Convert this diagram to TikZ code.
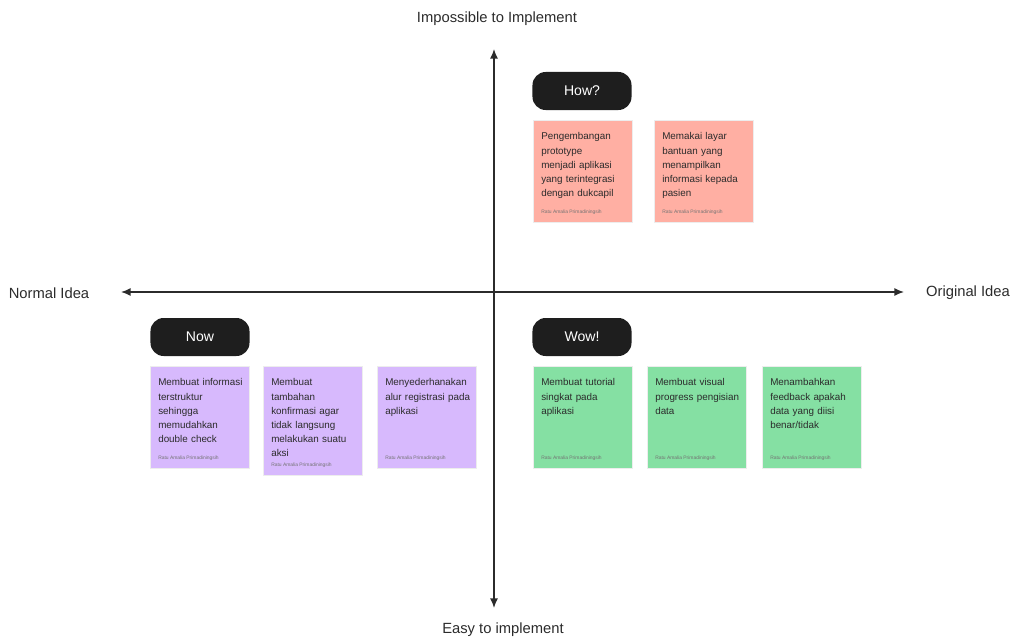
\documentclass[tikz,border=0pt]{standalone}
\usepackage{fontspec}
\setmainfont{Liberation Sans}
\usetikzlibrary{shapes,arrows,arrows.meta,calc}
\usepackage{color}

\definecolor{pinknote}{HTML}{FFAFA3}
\definecolor{purplenote}{HTML}{D7B9FD}
\definecolor{greennote}{HTML}{85E0A3}
\definecolor{pilldark}{HTML}{1E1E1E}
\definecolor{inktext}{HTML}{2B2B2B}

\begin{document}
\begin{tikzpicture}[x=0.025cm, y=-0.025cm, >={Latex[length=2.4mm,width=2mm]},
  note/.style={anchor=north west, minimum width=2.475cm, minimum height=2.55cm, inner sep=0pt, draw=black!7},
  notetext/.style={anchor=north west, inner sep=0pt, align=left, text width=2.2cm, text=inktext, font=\fontsize{7}{10.1}\selectfont},
  foot/.style={anchor=west, inner sep=0pt, text=black!55, font=\fontsize{3.5}{4}\selectfont},
  pill/.style={rounded corners=0.33cm, fill=pilldark, text=white, minimum width=2.475cm, minimum height=0.95cm, inner sep=0pt, font=\fontsize{10}{12}\selectfont},
  axislabel/.style={text=inktext, inner sep=0pt, font=\fontsize{10.5}{12}\selectfont}]

\useasboundingbox (0,0) rectangle (1011,638);

% axes
\node[axislabel] at (497, 19) (ImpL) {Impossible to Implement};
\node[axislabel] at (503, 630) (EasyL) {Easy to implement};
\node[axislabel] at (49, 293) (NormL) {Normal Idea};
\node[axislabel] at (968, 293) (OrigL) {Original Idea};

\coordinate (Top) at (494, 49);
\coordinate (Bot) at (494, 608);
\coordinate (Left) at (121, 292);
\coordinate (Right) at (904, 292);
\draw [<->, line width=1pt, inktext] (Bot) -- (Top);
\draw [<->, line width=1pt, inktext] (Left) -- (Right);

% How?
\node[pill] at (582, 91) (How) {How?};

\node[note, fill=pinknote] at (533, 120) (P1) {};
\node[notetext] at ($(P1.north west)+(8,12.5)$) (P1t) {Pengembangan\\prototype\\menjadi aplikasi\\yang terintegrasi\\dengan dukcapil};
\node[foot] at ($(P1.south west)+(8,-10)$) (P1f) {Ratu Amalia Primadiningsih};

\node[note, fill=pinknote] at (654, 120) (P2) {};
\node[notetext] at ($(P2.north west)+(8,12.5)$) (P2t) {Memakai layar\\bantuan yang\\menampilkan\\informasi kepada\\pasien};
\node[foot] at ($(P2.south west)+(8,-10)$) (P2f) {Ratu Amalia Primadiningsih};

% Now
\node[pill] at (200, 337) (Now) {Now};

\node[note, fill=purplenote] at (150, 366) (N1) {};
\node[notetext] at ($(N1.north west)+(8,12.5)$) (N1t) {Membuat informasi\\terstruktur\\sehingga\\memudahkan\\double check};
\node[foot] at ($(N1.south west)+(8,-10)$) (N1f) {Ratu Amalia Primadiningsih};

\node[note, fill=purplenote, minimum height=2.725cm] at (263, 366) (N2) {};
\node[notetext] at ($(N2.north west)+(8,12.5)$) (N2t) {Membuat\\tambahan\\konfirmasi agar\\tidak langsung\\melakukan suatu\\aksi};
\node[foot] at ($(N2.south west)+(8,-10)$) (N2f) {Ratu Amalia Primadiningsih};

\node[note, fill=purplenote] at (377, 366) (N3) {};
\node[notetext] at ($(N3.north west)+(8,12.5)$) (N3t) {Menyederhanakan\\alur registrasi pada\\aplikasi};
\node[foot] at ($(N3.south west)+(8,-10)$) (N3f) {Ratu Amalia Primadiningsih};

% Wow!
\node[pill] at (582, 337) (Wow) {Wow!};

\node[note, fill=greennote] at (533, 366) (W1) {};
\node[notetext] at ($(W1.north west)+(8,12.5)$) (W1t) {Membuat tutorial\\singkat pada\\aplikasi};
\node[foot] at ($(W1.south west)+(8,-10)$) (W1f) {Ratu Amalia Primadiningsih};

\node[note, fill=greennote] at (647, 366) (W2) {};
\node[notetext] at ($(W2.north west)+(8,12.5)$) (W2t) {Membuat visual\\progress pengisian\\data};
\node[foot] at ($(W2.south west)+(8,-10)$) (W2f) {Ratu Amalia Primadiningsih};

\node[note, fill=greennote] at (762, 366) (W3) {};
\node[notetext] at ($(W3.north west)+(8,12.5)$) (W3t) {Menambahkan\\feedback apakah\\data yang diisi\\benar/tidak};
\node[foot] at ($(W3.south west)+(8,-10)$) (W3f) {Ratu Amalia Primadiningsih};

\end{tikzpicture}
\end{document}
